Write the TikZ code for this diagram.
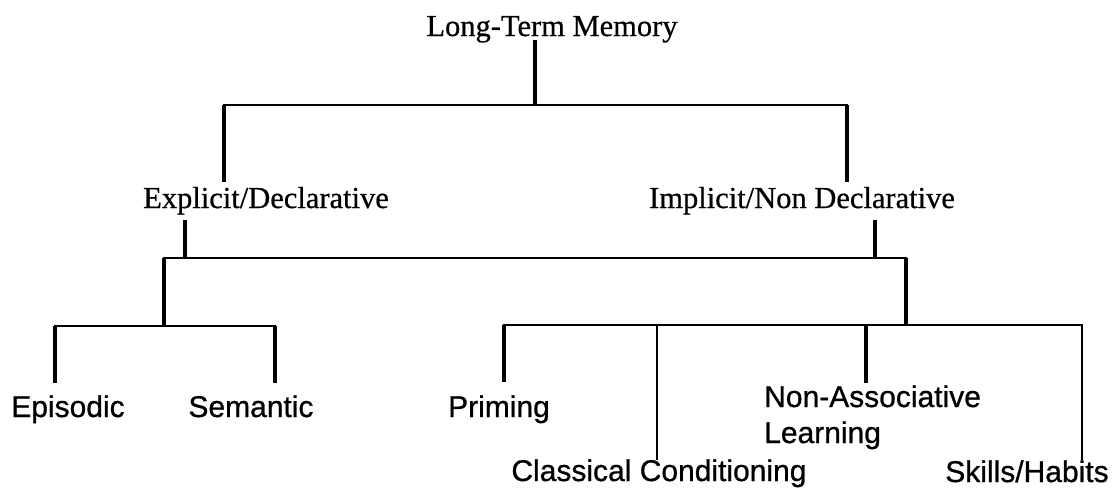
\documentclass[tikz,border=0pt]{standalone}
\usepackage{fontspec}
\setmainfont{Liberation Serif}[FakeBold=0.6]
\newfontfamily\labelsans{Liberation Sans}[FakeBold=0.8]
\begin{document}
\begin{tikzpicture}[x=1pt,y=-1pt,
  serlab/.style={inner sep=0pt,anchor=base,font=\fontsize{30.5}{36}\selectfont},
  sanlab/.style={inner sep=0pt,anchor=base,font=\labelsans\fontsize{30}{36}\selectfont},
  thickv/.style={line width=4pt},
  thinv/.style={line width=2pt},
  hline/.style={line width=2.6pt,line cap=rect}]
\useasboundingbox (0,0) rectangle (1112,496);
% labels
\node[serlab] (ltm) at (552,36) {Long-Term Memory};
\node[serlab] (expl) at (266,208) {Explicit/Declarative};
\node[serlab] (impl) at (802,208) {Implicit/Non Declarative};
\node[sanlab] (epi) at (68,417) {Episodic};
\node[sanlab] (sem) at (251,417) {Semantic};
\node[sanlab] (pri) at (499,417) {Priming};
\node[sanlab,anchor=base west] (nona) at (764,407) {Non-Associative};
\node[sanlab,anchor=base west] (nonb) at (764,443) {Learning};
\node[sanlab] (cla) at (659,481) {Classical Conditioning};
\node[sanlab] (ski) at (1027,482) {Skills/Habits};
% junction coordinates
\coordinate (a0) at (535,40);
\coordinate (a1) at (535,105);
\coordinate (b0) at (224,105);
\coordinate (b1) at (224,182);
\coordinate (c0) at (847,105);
\coordinate (c1) at (847,182);
\coordinate (d0) at (185,220);
\coordinate (d1) at (185,258);
\coordinate (e0) at (875,220);
\coordinate (e1) at (875,258);
\coordinate (f0) at (164,258);
\coordinate (f1) at (164,326);
\coordinate (g0) at (906,258);
\coordinate (g1) at (906,325);
\coordinate (h0) at (55,326);
\coordinate (h1) at (55,383);
\coordinate (i0) at (275,326);
\coordinate (i1) at (275,383);
\coordinate (j0) at (504,325);
\coordinate (j1) at (504,382);
\coordinate (k0) at (657,325);
\coordinate (k1) at (657,460);
\coordinate (l0) at (866,325);
\coordinate (l1) at (866,383);
\coordinate (m0) at (1082,325);
\coordinate (m1) at (1082,460);
% connectors
\draw[thickv] (a0) -- (a1);
\draw[hline] (b0) -- (c0);
\draw[thickv] (b0) -- (b1);
\draw[thickv] (c0) -- (c1);
\draw[thickv] (d0) -- (d1);
\draw[thickv] (e0) -- (e1);
\draw[hline] (f0) -- (g0);
\draw[thickv] (f0) -- (f1);
\draw[thickv] (g0) -- (g1);
\draw[hline] (h0) -- (i0);
\draw[thickv] (h0) -- (h1);
\draw[thickv] (i0) -- (i1);
\draw[hline] (j0) -- (m0);
\draw[thickv] (j0) -- (j1);
\draw[thinv] (k0) -- (k1);
\draw[thickv] (l0) -- (l1);
\draw[thinv] (m0) -- (m1);
\end{tikzpicture}
\end{document}
